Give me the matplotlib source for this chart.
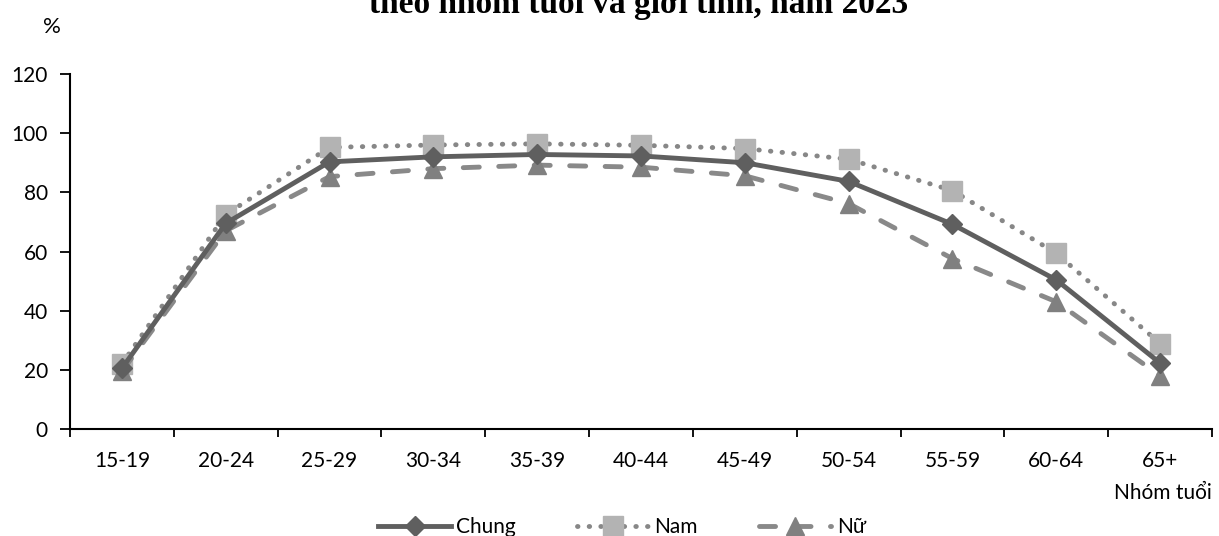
import numpy as np
import matplotlib
matplotlib.use("Agg")
import matplotlib.pyplot as plt

# Labour force participation rate by age group and sex
age_groups = ["15-19", "20-24", "25-29", "30-34", "35-39", "40-44",
              "45-49", "50-54", "55-59", "60-64", "65+"]
chung = [20.5, 69.5, 90.3, 92.0, 92.8, 92.3, 90.0, 83.7, 69.2, 50.4, 22.3]
nam = [22.0, 72.5, 95.2, 96.0, 96.4, 95.9, 94.8, 91.2, 80.6, 59.4, 28.9]
nu = [19.5, 67.0, 85.3, 88.0, 89.2, 88.5, 85.6, 76.2, 57.6, 43.0, 18.0]

plt.rcParams["font.family"] = ["Lato", "DejaVu Sans"]
FS = 15

fig = plt.figure(figsize=(12.19, 5.36), dpi=100)
ax = fig.add_axes([70 / 1219, 107 / 536, 1142 / 1219, 355 / 536])

x = np.arange(len(age_groups))
ax.plot(x, chung, color="#5f5f5f", lw=3.5, marker="D", ms=10,
        mfc="#5f5f5f", mec="#5f5f5f", label="Chung", zorder=3)
ax.plot(x, nam, color="#878787", lw=3.5, ls=(0, (0.1, 2.3)),
        dash_capstyle="round", marker="s", ms=14,
        mfc="#b3b3b3", mec="#b3b3b3", label="Nam", zorder=2)
ax.plot(x, nu, color="#898989", lw=3.5, ls=(0, (3.3, 4.0)),
        dash_capstyle="round", marker="^", ms=13,
        mfc="#808080", mec="#808080", label="Nữ", zorder=2)

ax.set_xlim(-0.5, len(age_groups) - 0.5)
ax.set_ylim(0, 120)
ax.set_yticks(np.arange(0, 121, 20))
ax.set_xticks(x)
ax.set_xticklabels(age_groups)
ax.set_xticks(np.arange(-0.5, len(age_groups), 1), minor=True)
ax.tick_params(axis="x", which="major", length=0, pad=16, labelsize=FS)
ax.tick_params(axis="x", which="minor", length=6, width=1.3, direction="out")
ax.tick_params(axis="y", length=7, width=1.3, labelsize=FS, pad=9)

for side in ["top", "right"]:
    ax.spines[side].set_visible(False)
for side in ["left", "bottom"]:
    ax.spines[side].set_linewidth(1.5)

fig.text(52 / 1219, 1 - 27 / 536, "%", fontsize=16, ha="center", va="center")
fig.text(1212 / 1219, 1 - 493 / 536, "Nhóm tuổi", fontsize=FS,
         ha="right", va="center")

# Title sits at the top edge, only its lower part stays on the canvas
fig.text(639 / 1219, 1 - 13 / 536, "theo nhóm tuổi và giới tính, năm 2023",
         family="Liberation Serif", fontweight="bold", fontsize=24,
         ha="center", va="baseline")

fig.legend(loc="center", bbox_to_anchor=(622 / 1219, 1 - 527 / 536),
           ncol=3, frameon=False, fontsize=FS, handlelength=3.5,
           columnspacing=2.9, handletextpad=0.25, borderpad=0)

fig.savefig("out.png", dpi=100)
